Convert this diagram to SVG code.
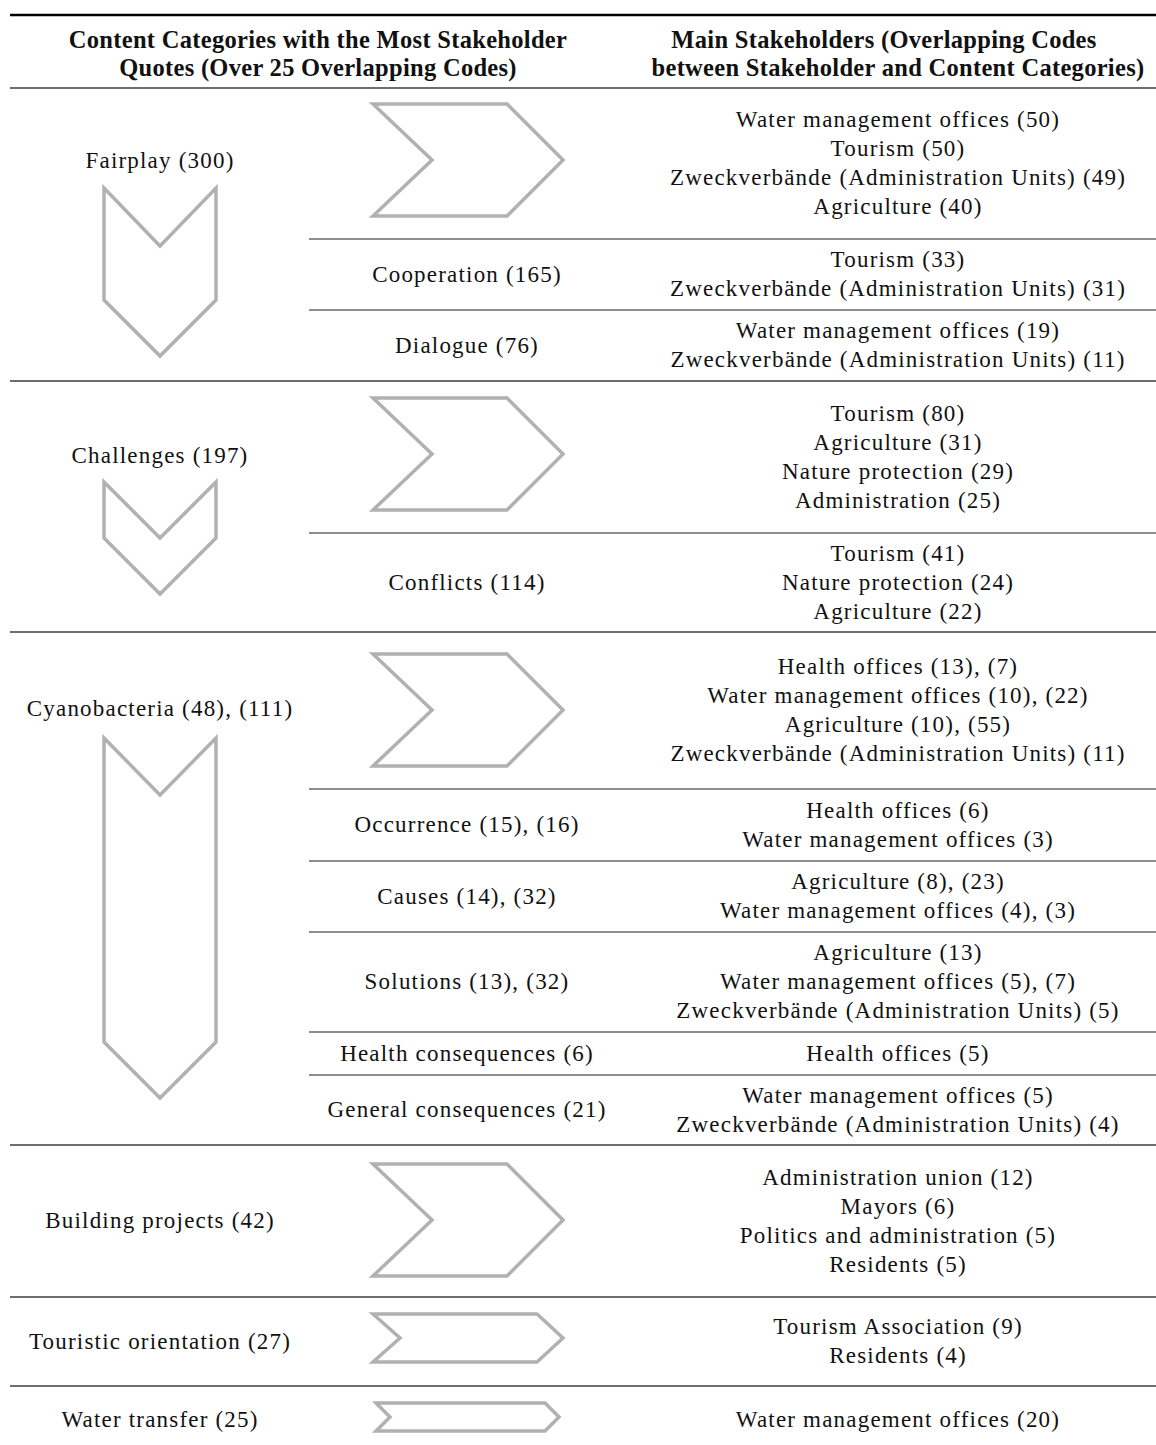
<svg xmlns="http://www.w3.org/2000/svg" width="1156" height="1445" viewBox="0 0 1156 1445">
<style>
text{font-family:"Liberation Serif","Times New Roman",serif;font-size:23px;letter-spacing:1.2px;fill:#111;text-anchor:middle}
.h{font-weight:bold;font-size:24.5px;letter-spacing:0.3px}
.chev{fill:none;stroke:#b3b0b0;stroke-width:3.5;stroke-linejoin:miter}
.sec{stroke:#6e6e6e;stroke-width:2}
.sub{stroke:#1e1e1e;stroke-width:1.2}
</style>
<rect width="1156" height="1445" fill="#fff"/>
<g id="rules">
<line x1="10" y1="15" x2="1156" y2="15" stroke="#000" stroke-width="2.6"/>
<line class="sec" x1="10" y1="88" x2="1156" y2="88"/>
<line class="sec" x1="10" y1="381" x2="1156" y2="381"/>
<line class="sec" x1="10" y1="632" x2="1156" y2="632"/>
<line class="sec" x1="10" y1="1145" x2="1156" y2="1145"/>
<line class="sec" x1="10" y1="1297" x2="1156" y2="1297"/>
<line class="sec" x1="10" y1="1386" x2="1156" y2="1386"/>
<line class="sub" x1="309" y1="239" x2="1156" y2="239"/>
<line class="sub" x1="309" y1="310" x2="1156" y2="310"/>
<line class="sub" x1="309" y1="533" x2="1156" y2="533"/>
<line class="sub" x1="309" y1="789" x2="1156" y2="789"/>
<line class="sub" x1="309" y1="861" x2="1156" y2="861"/>
<line class="sub" x1="309" y1="932" x2="1156" y2="932"/>
<line class="sub" x1="309" y1="1032" x2="1156" y2="1032"/>
<line class="sub" x1="309" y1="1075" x2="1156" y2="1075"/>
</g>
<g id="header">
<text class="h" x="318" y="48">Content Categories with the Most Stakeholder</text>
<text class="h" x="318" y="76">Quotes (Over 25 Overlapping Codes)</text>
<text class="h" x="884" y="48">Main Stakeholders (Overlapping Codes</text>
<text class="h" x="898" y="76">between Stakeholder and Content Categories)</text>
</g>
<g id="fairplay">
<text x="160" y="168">Fairplay (300)</text>
<polygon class="chev" points="104,188 160,246 216,188 216,300 160,356 104,300"/>
<polygon class="chev" points="373,104 507,104 563,160 507,216 373,216 432,160"/>
<text x="898" y="127">Water management offices (50)</text>
<text x="898" y="156">Tourism (50)</text>
<text x="898" y="185">Zweckverbände (Administration Units) (49)</text>
<text x="898" y="214">Agriculture (40)</text>
</g>
<g id="cooperation">
<text x="467" y="281.5">Cooperation (165)</text>
<text x="898" y="267">Tourism (33)</text>
<text x="898" y="296">Zweckverbände (Administration Units) (31)</text>
</g>
<g id="dialogue">
<text x="467" y="352.5">Dialogue (76)</text>
<text x="898" y="338">Water management offices (19)</text>
<text x="898" y="367">Zweckverbände (Administration Units) (11)</text>
</g>
<g id="challenges">
<text x="160" y="463">Challenges (197)</text>
<polygon class="chev" points="104,482 160,538 216,482 216,538 160,594 104,538"/>
<polygon class="chev" points="373,398 507,398 563,454 507,510 373,510 432,454"/>
<text x="898" y="421">Tourism (80)</text>
<text x="898" y="450">Agriculture (31)</text>
<text x="898" y="479">Nature protection (29)</text>
<text x="898" y="508">Administration (25)</text>
</g>
<g id="conflicts">
<text x="467" y="589.5">Conflicts (114)</text>
<text x="898" y="560.5">Tourism (41)</text>
<text x="898" y="589.5">Nature protection (24)</text>
<text x="898" y="618.5">Agriculture (22)</text>
</g>
<g id="cyanobacteria">
<text x="160" y="716">Cyanobacteria (48), (111)</text>
<polygon class="chev" points="104,738 160,795 216,738 216,1042 160,1098 104,1042"/>
<polygon class="chev" points="373,654 507,654 563,710 507,766 373,766 432,710"/>
<text x="898" y="674">Health offices (13), (7)</text>
<text x="898" y="703">Water management offices (10), (22)</text>
<text x="898" y="732">Agriculture (10), (55)</text>
<text x="898" y="761">Zweckverbände (Administration Units) (11)</text>
</g>
<g id="occurrence">
<text x="467" y="832">Occurrence (15), (16)</text>
<text x="898" y="817.5">Health offices (6)</text>
<text x="898" y="846.5">Water management offices (3)</text>
</g>
<g id="causes">
<text x="467" y="903.5">Causes (14), (32)</text>
<text x="898" y="889">Agriculture (8), (23)</text>
<text x="898" y="918">Water management offices (4), (3)</text>
</g>
<g id="solutions">
<text x="467" y="989">Solutions (13), (32)</text>
<text x="898" y="960">Agriculture (13)</text>
<text x="898" y="989">Water management offices (5), (7)</text>
<text x="898" y="1018">Zweckverbände (Administration Units) (5)</text>
</g>
<g id="health-consequences">
<text x="467" y="1060.5">Health consequences (6)</text>
<text x="898" y="1060.5">Health offices (5)</text>
</g>
<g id="general-consequences">
<text x="467" y="1117">General consequences (21)</text>
<text x="898" y="1102.5">Water management offices (5)</text>
<text x="898" y="1131.5">Zweckverbände (Administration Units) (4)</text>
</g>
<g id="building-projects">
<text x="160" y="1228">Building projects (42)</text>
<polygon class="chev" points="373,1164 507,1164 563,1220 507,1276 373,1276 432,1220"/>
<text x="898" y="1184.5">Administration union (12)</text>
<text x="898" y="1213.5">Mayors (6)</text>
<text x="898" y="1242.5">Politics and administration (5)</text>
<text x="898" y="1271.5">Residents (5)</text>
</g>
<g id="touristic-orientation">
<text x="160" y="1348.5">Touristic orientation (27)</text>
<polygon class="chev" points="373,1314 537,1314 563,1338 537,1362 373,1362 400,1338"/>
<text x="898" y="1334">Tourism Association (9)</text>
<text x="898" y="1363">Residents (4)</text>
</g>
<g id="water-transfer">
<text x="160" y="1427">Water transfer (25)</text>
<polygon class="chev" points="376,1403 545,1403 559,1417 545,1431 376,1431 390,1417"/>
<text x="898" y="1427">Water management offices (20)</text>
</g>
</svg>
